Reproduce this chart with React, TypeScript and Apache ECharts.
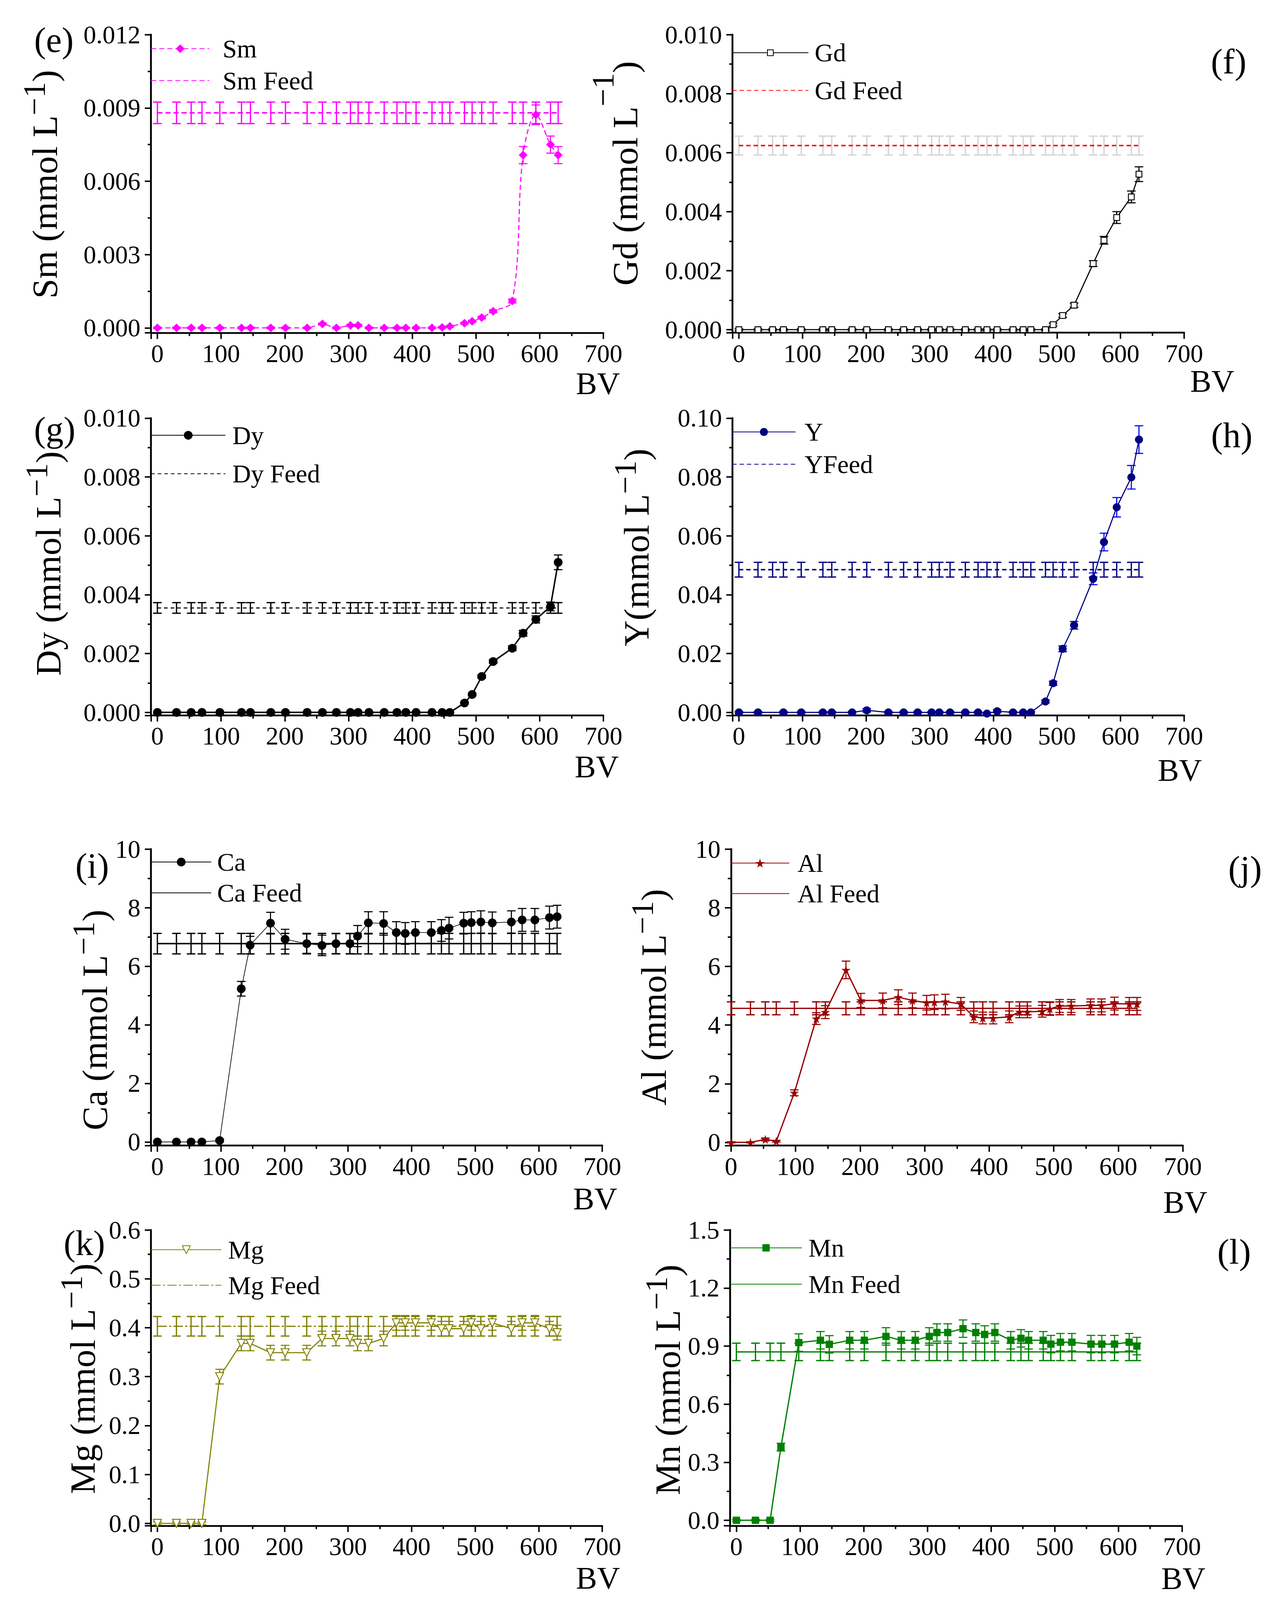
import React, { useEffect, useRef } from 'react';
import * as echarts from 'echarts';

const FONT = '"Liberation Serif", "Times New Roman", serif';

// ---------------- data ----------------
const BV = [0, 30, 53, 70, 98, 132, 146, 178, 201, 235, 259, 281, 303, 315, 332, 356, 376, 390, 406, 431, 447, 459, 482, 494, 509, 527, 557, 574, 594, 617, 629];

const SM = [0, 0, 0, 0, 0, 0, 0, 0, 0, 0, 0.00016, 0, 0.0001, 0.0001, 0, 0, 0, 0, 0, 0, 0.00002, 0.00006, 0.00019, 0.00027, 0.00042, 0.00068, 0.0011, 0.00707, 0.00872, 0.0075, 0.00707];
const SM_ERR = [0.00003, 0.00003, 0.00003, 0.00003, 0.00003, 0.00003, 0.00003, 0.00003, 0.00003, 0.00003, 0.00004, 0.00003, 0.00004, 0.00004, 0.00003, 0.00003, 0.00003, 0.00003, 0.00003, 0.00003, 0.00003, 0.00003, 0.00004, 0.00004, 0.00005, 0.00006, 0.00008, 0.00035, 0.0004, 0.00035, 0.00035];
const SM_FEED = 0.0088;
const SM_FEED_ERR = 0.00044;

const GD = [0, 0, 0, 0, 0, 0, 0, 0, 0, 0, 0, 0, 0, 0, 0, 0, 0, 0, 0, 0, 0, 0, 0, 0.00017, 0.00048, 0.00083, 0.00224, 0.00303, 0.0038, 0.0045, 0.00527];
const GD_ERR = [0.00003, 0.00003, 0.00003, 0.00003, 0.00003, 0.00003, 0.00003, 0.00003, 0.00003, 0.00003, 0.00003, 0.00003, 0.00003, 0.00003, 0.00003, 0.00003, 0.00003, 0.00003, 0.00003, 0.00003, 0.00003, 0.00003, 0.00003, 0.00005, 0.00006, 0.00007, 0.0001, 0.00013, 0.0002, 0.0002, 0.00025];
const GD_FEED = 0.00624;
const GD_FEED_ERR = 0.00032;

const DY = [0, 0, 0, 0, 0, 0, 0, 0, 0, 0, 0, 0, 0, 0, 0, 0, 0, 0, 0, 0, 0, 0, 0.00032, 0.00061, 0.00122, 0.00173, 0.00218, 0.00269, 0.00316, 0.0036, 0.0051];
const DY_ERR = [0.00002, 0.00002, 0.00002, 0.00002, 0.00002, 0.00002, 0.00002, 0.00002, 0.00002, 0.00002, 0.00002, 0.00002, 0.00002, 0.00002, 0.00002, 0.00002, 0.00002, 0.00002, 0.00002, 0.00002, 0.00002, 0.00002, 0.00003, 0.00004, 0.00005, 0.00006, 0.00008, 0.0001, 0.00012, 0.00015, 0.00025];
const DY_FEED = 0.00355;
const DY_FEED_ERR = 0.00018;

const YV = [0, 0, null, 0, 0, 0, 0, 0, 0.0007, 0, 0, 0, 0, 0, 0, 0, 0, -0.0004, 0.0004, 0, 0, 0, 0.0037, 0.0099, 0.0216, 0.0296, 0.0454, 0.0579, 0.0697, 0.0799, 0.0927];
const YV_ERR = [0.0003, 0.0003, 0.0003, 0.0003, 0.0003, 0.0003, 0.0003, 0.0003, 0.0006, 0.0003, 0.0003, 0.0003, 0.0003, 0.0003, 0.0003, 0.0003, 0.0003, 0.0004, 0.0005, 0.0003, 0.0003, 0.0003, 0.0005, 0.0007, 0.001, 0.0013, 0.002, 0.003, 0.0033, 0.004, 0.0047];
const YV_FEED = 0.0485;
const YV_FEED_ERR = 0.0025;

const CA = [0, 0, 0, 0, 0.05, 5.23, 6.72, 7.47, 6.92, 6.77, 6.71, 6.77, 6.77, 7.03, 7.48, 7.46, 7.15, 7.12, 7.15, 7.15, 7.22, 7.3, 7.47, 7.49, 7.51, 7.48, 7.51, 7.58, 7.58, 7.66, 7.69];
const CA_ERR = [0.02, 0.02, 0.02, 0.02, 0.05, 0.25, 0.3, 0.37, 0.34, 0.33, 0.35, 0.34, 0.34, 0.36, 0.38, 0.4, 0.37, 0.37, 0.37, 0.37, 0.37, 0.37, 0.37, 0.37, 0.38, 0.37, 0.38, 0.39, 0.39, 0.39, 0.39];
const CA_FEED = 6.77;
const CA_FEED_ERR = 0.35;

const AL = [0, 0, 0.1, 0.04, 1.69, 4.22, 4.44, 5.88, 4.84, 4.84, 4.95, 4.84, 4.76, 4.78, 4.8, 4.72, 4.28, 4.24, 4.24, 4.28, 4.45, 4.45, 4.47, 4.55, 4.65, 4.65, 4.67, 4.67, 4.73, 4.72, 4.72];
const AL_ERR = [0.02, 0.02, 0.05, 0.03, 0.1, 0.2, 0.22, 0.3, 0.24, 0.25, 0.25, 0.25, 0.25, 0.25, 0.25, 0.22, 0.2, 0.2, 0.2, 0.2, 0.2, 0.2, 0.2, 0.22, 0.22, 0.22, 0.22, 0.22, 0.22, 0.22, 0.22];
const AL_FEED = 4.57;
const AL_FEED_ERR = 0.22;

const MG = [0, 0, 0, 0, 0.3, 0.368, 0.368, 0.349, 0.349, 0.349, 0.378, 0.378, 0.378, 0.368, 0.368, 0.378, 0.41, 0.41, 0.41, 0.41, 0.398, 0.398, 0.398, 0.41, 0.398, 0.41, 0.398, 0.41, 0.41, 0.398, 0.39];
const MG_ERR = [0.003, 0.003, 0.003, 0.003, 0.015, 0.015, 0.015, 0.015, 0.015, 0.015, 0.015, 0.015, 0.015, 0.015, 0.015, 0.015, 0.015, 0.015, 0.015, 0.015, 0.015, 0.015, 0.015, 0.015, 0.015, 0.015, 0.015, 0.015, 0.015, 0.015, 0.015];
const MG_FEED = 0.403;
const MG_FEED_ERR = 0.02;

const MN = [0, 0, 0, 0.378, 0.918, 0.93, 0.909, 0.93, 0.93, 0.95, 0.93, 0.93, 0.95, 0.97, 0.97, 0.99, 0.97, 0.96, 0.97, 0.93, 0.94, 0.93, 0.93, 0.91, 0.92, 0.92, 0.91, 0.91, 0.91, 0.92, 0.9];
const MN_ERR = [0.005, 0.005, 0.005, 0.02, 0.045, 0.045, 0.045, 0.045, 0.045, 0.045, 0.045, 0.045, 0.045, 0.045, 0.045, 0.045, 0.045, 0.045, 0.045, 0.045, 0.045, 0.045, 0.045, 0.045, 0.045, 0.045, 0.045, 0.045, 0.045, 0.045, 0.045];
const MN_FEED = 0.87;
const MN_FEED_ERR = 0.045;

// ---------------- layout & style (designed for a 3257 x 4375 page, scaled to the viewport) ----------------
const REF_W = 3257;
const REF_H = 4375;
const STAR = 'path://M50,0 L61,35 L98,35 L68,57 L79,91 L50,70 L21,91 L32,57 L2,35 L39,35 Z';

const PANELS: any[] = [
  {
    name: 'Sm', feedName: 'Sm Feed', vals: SM, errs: SM_ERR, feed: SM_FEED, feedErr: SM_FEED_ERR,
    grid: { left: 386.7, top: 94.7, width: 1158.3, height: 815.2 }, xMin: -10, yMin: -0.0002, yMax: 0.012, ySplit: 4, dec: 3,
    color: '#FF00FF', lineType: [14, 8], lineWidth: 3, smooth: 0.35, symbol: 'diamond', symbolSize: 24, item: { color: '#FF00FF' },
    errColor: '#FF00FF', feedColor: '#FF00FF', feedType: [14, 8], feedWidth: 4, feedErrColor: '#FF00FF',
    legend: { left: 386, top: 99, w: 149, gap: 19, pad: 29 },
    title: { x: 115, y: 504, main: 'Sm (mmol L', P: 56 }, tag: { x: 138, y: 109, t: '(e)' }, bv: { x: 1531, y: 1049 },
  },
  {
    name: 'Gd', feedName: 'Gd Feed', vals: GD, errs: GD_ERR, feed: GD_FEED, feedErr: GD_FEED_ERR,
    grid: { left: 1875.7, top: 94.7, width: 1156.3, height: 814.8 }, xMin: -10, yMin: -0.0001, yMax: 0.01, ySplit: 5, dec: 3,
    color: '#000000', lineType: 'solid', lineWidth: 3, smooth: false, symbol: 'rect', symbolSize: 16, item: { color: '#FFFFFF', borderColor: '#000000', borderWidth: 2.5 },
    errColor: '#000000', feedColor: '#FF0000', feedType: [12, 8], feedWidth: 4, feedErrColor: '#D3D3D3',
    legend: { left: 1874, top: 110, w: 195, gap: 35, pad: 11 },
    title: { x: 1601, y: 474, main: 'Gd (mmol L', P: 116 }, tag: { x: 3146, y: 168, t: '(f)' }, bv: { x: 3104, y: 1042 },
  },
  {
    name: 'Dy', feedName: 'Dy Feed', vals: DY, errs: DY_ERR, feed: DY_FEED, feedErr: DY_FEED_ERR,
    grid: { left: 386.7, top: 1143.3, width: 1158.3, height: 812.7 }, xMin: -10, yMin: -0.0001, yMax: 0.01, ySplit: 5, dec: 3,
    color: '#000000', lineType: 'solid', lineWidth: 4, smooth: false, symbol: 'circle', symbolSize: 24, item: { color: '#000000' },
    errColor: '#000000', feedColor: '#000000', feedType: [10, 8], feedWidth: 3, feedErrColor: '#000000',
    legend: { left: 386, top: 1156, w: 190, gap: 37, pad: 13 },
    title: { x: 124, y: 1541, main: 'Dy (mmol L', P: 62 }, tag: { x: 140, y: 1174, t: '(g)' }, bv: { x: 1528, y: 2097 },
  },
  {
    name: 'Y', feedName: 'YFeed', vals: YV, errs: YV_ERR, feed: YV_FEED, feedErr: YV_FEED_ERR,
    grid: { left: 1875.7, top: 1143.3, width: 1156.3, height: 812.7 }, xMin: -10, yMin: -0.001, yMax: 0.1, ySplit: 5, dec: 2,
    color: '#000080', lineType: 'solid', lineWidth: 3, smooth: false, symbol: 'circle', symbolSize: 22, item: { color: '#000080' },
    errColor: '#0000FF', feedColor: '#000080', feedType: [12, 8], feedWidth: 4, feedErrColor: '#000080',
    legend: { left: 1874, top: 1147, w: 162, gap: 20, pad: 18 },
    title: { x: 1630, y: 1497, main: 'Y(mmol L', P: 60 }, tag: { x: 3154, y: 1190, t: '(h)' }, bv: { x: 3021, y: 2106 },
  },
  {
    name: 'Ca', feedName: 'Ca Feed', vals: CA, errs: CA_ERR, feed: CA_FEED, feedErr: CA_FEED_ERR,
    grid: { left: 386.7, top: 2321.6, width: 1155.3, height: 810.9 }, xMin: -10, yMin: -0.125, yMax: 10, ySplit: 5, dec: 0,
    color: '#000000', lineType: 'solid', lineWidth: 1.8, smooth: false, symbol: 'circle', symbolSize: 24, item: { color: '#000000' },
    errColor: '#000000', feedColor: '#000000', feedType: 'solid', feedWidth: 4, feedErrColor: '#000000',
    legend: { left: 386, top: 2323, w: 154, gap: 16, pad: 10 },
    title: { x: 243, y: 2789, main: 'Ca (mmol L', P: 60 }, tag: { x: 236, y: 2368, t: '(i)' }, bv: { x: 1524, y: 3278 },
  },
  {
    name: 'Al', feedName: 'Al Feed', vals: AL, errs: AL_ERR, feed: AL_FEED, feedErr: AL_FEED_ERR,
    grid: { left: 1872, top: 2321.6, width: 1156.7, height: 810.9 }, xMin: 0, yMin: -0.11, yMax: 10, ySplit: 5, dec: 0,
    color: '#990000', lineType: 'solid', lineWidth: 3.5, smooth: false, symbol: STAR, symbolSize: 25, item: { color: '#990000' },
    errColor: '#990000', feedColor: '#990000', feedType: 'solid', feedWidth: 3.5, feedErrColor: '#990000',
    legend: { left: 1870, top: 2326, w: 150, gap: 15, pad: 16 },
    title: { x: 1674, y: 2727, main: 'Al (mmol L', P: 60 }, tag: { x: 3188, y: 2375, t: '(j)' }, bv: { x: 3035, y: 3288 },
  },
  {
    name: 'Mg', feedName: 'Mg Feed', vals: MG, errs: MG_ERR, feed: MG_FEED, feedErr: MG_FEED_ERR,
    grid: { left: 386.7, top: 3363.1, width: 1155.3, height: 809 }, xMin: -10, yMin: -0.005, yMax: 0.6, ySplit: 6, dec: 1,
    color: '#808000', lineType: 'solid', lineWidth: 3, smooth: false, symbol: 'triangle', symbolRotate: 180, symbolSize: 22, item: { color: '#FFFFFF', borderColor: '#808000', borderWidth: 2.5 },
    errColor: '#808000', feedColor: '#808000', feedType: [26, 6, 6, 6], feedWidth: 3, feedErrColor: '#808000',
    legend: { left: 386, top: 3383, w: 180, gap: 29, pad: 12 },
    title: { x: 212, y: 3770, main: 'Mg (mmol L', P: 60 }, tag: { x: 216, y: 3399, t: '(k)' }, bv: { x: 1531, y: 4315 },
  },
  {
    name: 'Mn', feedName: 'Mn Feed', vals: MN, errs: MN_ERR, feed: MN_FEED, feedErr: MN_FEED_ERR,
    grid: { left: 1869.2, top: 3363.1, width: 1157.4, height: 809 }, xMin: -10, yMin: -0.0285, yMax: 1.5, ySplit: 5, dec: 1,
    color: '#008000', lineType: 'solid', lineWidth: 3.5, smooth: false, symbol: 'rect', symbolSize: 20, item: { color: '#008000' },
    errColor: '#008000', feedColor: '#008000', feedType: 'solid', feedWidth: 3.5, feedErrColor: '#008000',
    legend: { left: 1869, top: 3378, w: 183, gap: 31, pad: 12 },
    title: { x: 1710, y: 3773, main: 'Mn (mmol L', P: 60 }, tag: { x: 3160, y: 3423, t: '(l)' }, bv: { x: 3030, y: 4316 },
  },
];

const errRender = (color: string, lw: number, cap: number) => (params: any, api: any) => {
  const x = api.value(0);
  const y = api.value(1);
  const e = api.value(2);
  const p1 = api.coord([x, y + e]);
  const p2 = api.coord([x, y - e]);
  const st = { stroke: color, lineWidth: lw };
  return {
    type: 'group',
    children: [
      { type: 'line', shape: { x1: p1[0], y1: p1[1], x2: p2[0], y2: p2[1] }, style: st },
      { type: 'line', shape: { x1: p1[0] - cap, y1: p1[1], x2: p1[0] + cap, y2: p1[1] }, style: st },
      { type: 'line', shape: { x1: p2[0] - cap, y1: p2[1], x2: p2[0] + cap, y2: p2[1] }, style: st },
    ],
  };
};

function buildOption(W: number, H: number) {
  const sx = W / REF_W;
  const sy = H / REF_H;
  const sf = Math.min(sx, sy);
  const sh = Math.sqrt(sx * sy);
  const X = (v: number) => v * sx;
  const Y = (v: number) => v * sy;
  const F = (v: number) => v * sf; // strokes, marks
  const T = (v: number) => v * sh; // horizontal text
  const dash = (t: any) => (Array.isArray(t) ? t.map((d: number) => F(d)) : t);

  const grid: any[] = [];
  const xAxis: any[] = [];
  const yAxis: any[] = [];
  const legend: any[] = [];
  const series: any[] = [];
  const graphic: any[] = [];

  PANELS.forEach((p, i) => {
    grid.push({
      left: X(p.grid.left), top: Y(p.grid.top), width: X(p.grid.width), height: Y(p.grid.height),
      containLabel: false, outerBoundsMode: 'none',
    });
    const common = {
      gridIndex: i,
      type: 'value',
      axisLine: { show: true, onZero: false, lineStyle: { color: '#000', width: F(5) } },
      axisTick: { show: true, inside: false, length: F(17), lineStyle: { color: '#000', width: F(4) } },
      minorTick: { show: true, splitNumber: 2, length: F(9), lineStyle: { color: '#000', width: F(4) } },
      splitLine: { show: false },
      minorSplitLine: { show: false },
    };
    xAxis.push({
      ...common,
      min: p.xMin,
      max: 700,
      ...(p.xMin === 0 ? { interval: 100 } : { splitNumber: 7 }),
      axisLabel: {
        show: true, showMinLabel: p.xMin === 0, showMaxLabel: true, margin: Y(22),
        fontSize: T(67), fontFamily: FONT, color: '#000',
        formatter: (v: number) => String(Math.round(v)),
      },
    });
    yAxis.push({
      ...common,
      min: p.yMin,
      max: p.yMax,
      splitNumber: p.ySplit,
      axisLabel: {
        show: true, showMinLabel: false, showMaxLabel: true, margin: X(27),
        fontSize: T(67), fontFamily: FONT, color: '#000',
        formatter: (v: number) => (p.dec === 0 ? String(Math.round(v)) : v.toFixed(p.dec)),
      },
    });

    const lh = T(68);
    const spacing = Y(68 + p.legend.gap);
    legend.push({
      orient: 'vertical',
      left: X(p.legend.left),
      top: Y(p.legend.top + 34) - lh / 2,
      padding: 0,
      itemWidth: X(p.legend.w),
      itemHeight: F(p.symbolSize / 0.8),
      itemGap: Math.max(0, spacing - lh),
      selectedMode: false,
      textStyle: { fontSize: T(68), fontFamily: FONT, color: '#000', lineHeight: lh, padding: [0, 0, 0, X(p.legend.pad)] },
      data: [{ name: p.name }, { name: p.feedName, itemStyle: { opacity: 0 } }],
    });

    series.push({
      type: 'custom', name: p.name + ' feed err', xAxisIndex: i, yAxisIndex: i, z: 2, silent: true, clip: false,
      encode: { x: 0, y: 1 },
      renderItem: errRender(p.feedErrColor, F(3.5), X(11)),
      data: BV.map((x) => [x, p.feed, p.feedErr]),
    });
    series.push({
      type: 'line', name: p.feedName, xAxisIndex: i, yAxisIndex: i, z: 3, silent: true,
      symbol: 'none', showSymbol: false,
      lineStyle: { color: p.feedColor, width: F(p.feedWidth), type: dash(p.feedType) },
      itemStyle: { color: p.feedColor },
      data: BV.map((x) => [x, p.feed]),
    });
    series.push({
      type: 'custom', name: p.name + ' err', xAxisIndex: i, yAxisIndex: i, z: 4, silent: true, clip: false,
      encode: { x: 0, y: 1 },
      renderItem: errRender(p.errColor, F(3), X(11)),
      data: BV.map((x, k) => [x, p.vals[k], p.errs[k]]).filter((d) => d[1] !== null),
    });
    series.push({
      type: 'line', name: p.name, xAxisIndex: i, yAxisIndex: i, z: 5, silent: true,
      symbol: p.symbol, symbolSize: F(p.symbolSize), symbolRotate: p.symbolRotate || 0,
      showSymbol: true, showAllSymbol: true, connectNulls: true, smooth: p.smooth,
      lineStyle: { color: p.color, width: F(p.lineWidth), type: dash(p.lineType) },
      itemStyle: p.item.borderWidth ? { ...p.item, borderWidth: F(p.item.borderWidth) } : p.item,
      data: BV.map((x, k) => [x, p.vals[k]]),
    });

    graphic.push({
      type: 'text',
      x: X(p.title.x),
      y: Y(p.title.y),
      rotation: Math.PI / 2,
      silent: true,
      style: {
        text: '{m|' + p.title.main + '}{s|−1}{m|)}',
        align: 'center',
        verticalAlign: 'middle',
        textAlign: 'center',
        textVerticalAlign: 'middle',
        rich: {
          m: { fontSize: Y(98), fontFamily: FONT, fill: '#000', lineHeight: Y(98) },
          s: { fontSize: Y(86), fontFamily: FONT, fill: '#000', padding: [0, 0, X(p.title.P), 0] },
        },
      },
    });
    graphic.push({
      type: 'text', x: X(p.tag.x), y: Y(p.tag.y), silent: true,
      style: { text: p.tag.t, fontSize: T(94), fontFamily: FONT, fill: '#000', align: 'center', verticalAlign: 'middle', textAlign: 'center', textVerticalAlign: 'middle' },
    });
    graphic.push({
      type: 'text', x: X(p.bv.x), y: Y(p.bv.y), silent: true,
      style: { text: 'BV', fontSize: T(84), fontFamily: FONT, fill: '#000', align: 'center', verticalAlign: 'middle', textAlign: 'center', textVerticalAlign: 'middle' },
    });
  });

  return {
    animation: false,
    backgroundColor: '#ffffff',
    grid,
    xAxis,
    yAxis,
    legend,
    series,
    graphic: { elements: graphic },
  };
}

export default function App() {
  const ref = useRef<HTMLDivElement>(null);
  useEffect(() => {
    document.body.style.margin = '0';
    document.documentElement.style.overflow = 'hidden';
    document.body.style.overflow = 'hidden';
    if (!ref.current) return;
    const W = window.innerWidth || REF_W;
    const H = window.innerHeight || REF_H;
    ref.current.style.width = W + 'px';
    ref.current.style.height = H + 'px';
    const chart = echarts.init(ref.current, null, { renderer: 'svg' });
    chart.setOption(buildOption(W, H) as any);
    return () => chart.dispose();
  }, []);
  return (
    <div
      ref={ref}
      style={{ position: 'absolute', left: 0, top: 0, width: REF_W, height: REF_H, background: '#fff' }}
    />
  );
}
